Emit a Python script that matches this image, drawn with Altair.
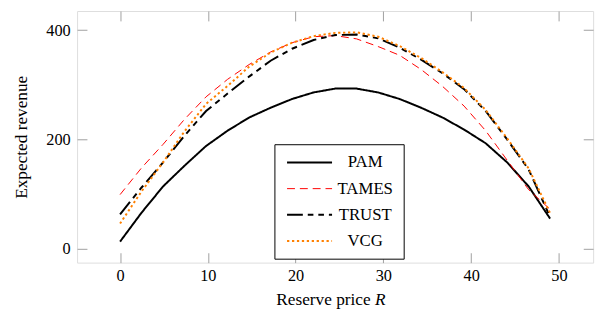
import altair as alt
import pandas as pd

# Reserve price R (x) and expected revenue per mechanism
r_vals = [0, 2.45, 4.9, 7.35, 9.8, 12.25, 14.7, 17.15, 19.6, 22.05, 24.5,
          26.95, 29.4, 31.85, 34.3, 36.75, 39.2, 41.65, 44.1, 46.55, 49]
pam = [13, 66, 114, 152, 188, 216, 240, 258, 274, 286, 293,
       293, 286, 274, 258, 240, 218, 193, 158, 114, 55]
tames = [99, 148, 191, 237, 278, 310, 337, 360, 377, 388, 390,
         384, 370, 354, 328, 297, 261, 216, 162, 108, 72]
trust = [63, 112, 158, 207, 252, 284, 315, 344, 366, 382, 391,
         392, 385, 368, 346, 321, 292, 252, 200, 145, 58]
vcg = [46, 105, 158, 215, 265, 298, 333, 359, 377, 389, 395,
       396, 388, 371, 349, 323, 294, 254, 202, 147, 65]

methods = ["PAM", "TAMES", "TRUST", "VCG"]
colors = ["#000000", "#ff0000", "#000000", "#ff8000"]
dashes = [[1, 0], [8, 5], [16, 5, 5.7, 5, 5.7, 5], [2.3, 2.7]]
widths = [2, 1, 2, 2]

x_ticks = [0, 10, 20, 30, 40, 50]
y_ticks = [0, 200, 400]

rows = []
for m, series in zip(methods, [pam, tames, trust, vcg]):
    for x, v in zip(r_vals, series):
        rows.append({"R": x, "revenue": v, "method": m})
df = pd.DataFrame(rows)

FONT = "Liberation Serif"
W, H = 523, 255
TICK = "#a0a0a0"

xscale = alt.Scale(domain=[-4.9, 53.9], nice=False, zero=False)
yscale = alt.Scale(domain=[-25.5, 435], nice=False, zero=False)

legend = alt.Legend(
    title=None, orient="none", legendX=200, legendY=135,
    symbolType="M-1,0H7", symbolSize=130,
    labelAlign="center", labelOffset=65, labelFont=FONT, labelFontSize=17,
    labelColor="black", rowPadding=8.5, padding=10,
    strokeColor="black", fillColor="white", labelLimit=0,
)

main = alt.Chart(df).mark_line(strokeCap="butt").encode(
    x=alt.X("R:Q", scale=xscale, axis=alt.Axis(
        orient="bottom", offset=-10, values=x_ticks, tickSize=10, tickColor=TICK,
        domain=False, grid=False, labelFont=FONT, labelFontSize=16.5,
        labelColor="black", labelPadding=5,
        title="Reserve price", titleX=297, titleY=52.5, titleAlign="right",
        titleBaseline="alphabetic", titleFont=FONT, titleFontSize=17.5,
        titleFontWeight="normal", titleColor="black")),
    y=alt.Y("revenue:Q", scale=yscale, axis=alt.Axis(
        orient="left", offset=-10, values=y_ticks, tickSize=10, tickColor=TICK,
        domain=False, grid=False, labelFont=FONT, labelFontSize=16.5,
        labelColor="black", labelPadding=7,
        title="Expected revenue", titleX=-61.5, titleY=H / 2, titleAngle=270,
        titleAlign="center", titleBaseline="alphabetic", titleFont=FONT,
        titleFontSize=17.5, titleFontWeight="normal", titleColor="black")),
    color=alt.Color("method:N", scale=alt.Scale(domain=methods, range=colors), legend=legend),
    strokeDash=alt.StrokeDash("method:N", scale=alt.Scale(domain=methods, range=dashes), legend=legend),
    strokeWidth=alt.StrokeWidth("method:N", scale=alt.Scale(type="ordinal", domain=methods, range=widths), legend=legend),
)

ticks = alt.Chart(df).mark_line(strokeOpacity=0).encode(
    x=alt.X("R:Q", scale=xscale, axis=alt.Axis(
        orient="top", offset=-10, values=x_ticks, tickSize=10, tickColor=TICK,
        domain=False, grid=False, labels=False, title=None)),
    y=alt.Y("revenue:Q", scale=yscale, axis=alt.Axis(
        orient="right", offset=-10, values=y_ticks, tickSize=10, tickColor=TICK,
        domain=False, grid=False, labels=False, title=None)),
    detail="method:N",
)

r_df = pd.DataFrame({"t": ["R"]})
rtext = alt.Chart(r_df).mark_text(
    font=FONT, fontSize=17.5, fontStyle="italic", align="left",
    baseline="alphabetic", color="black",
).encode(text="t:N", x=alt.value(302), y=alt.value(297.5))

chart = alt.layer(main, ticks, rtext).resolve_axis(
    x="independent", y="independent"
).properties(
    width=W, height=H,
    autosize=alt.AutoSizeParams(type="none"),
    padding={"left": 70, "top": 1, "right": 10, "bottom": 50},
).configure_view(stroke="black", strokeWidth=1).configure(font=FONT)

chart.save("out.html", embed_options={"renderer": "svg", "actions": False})
